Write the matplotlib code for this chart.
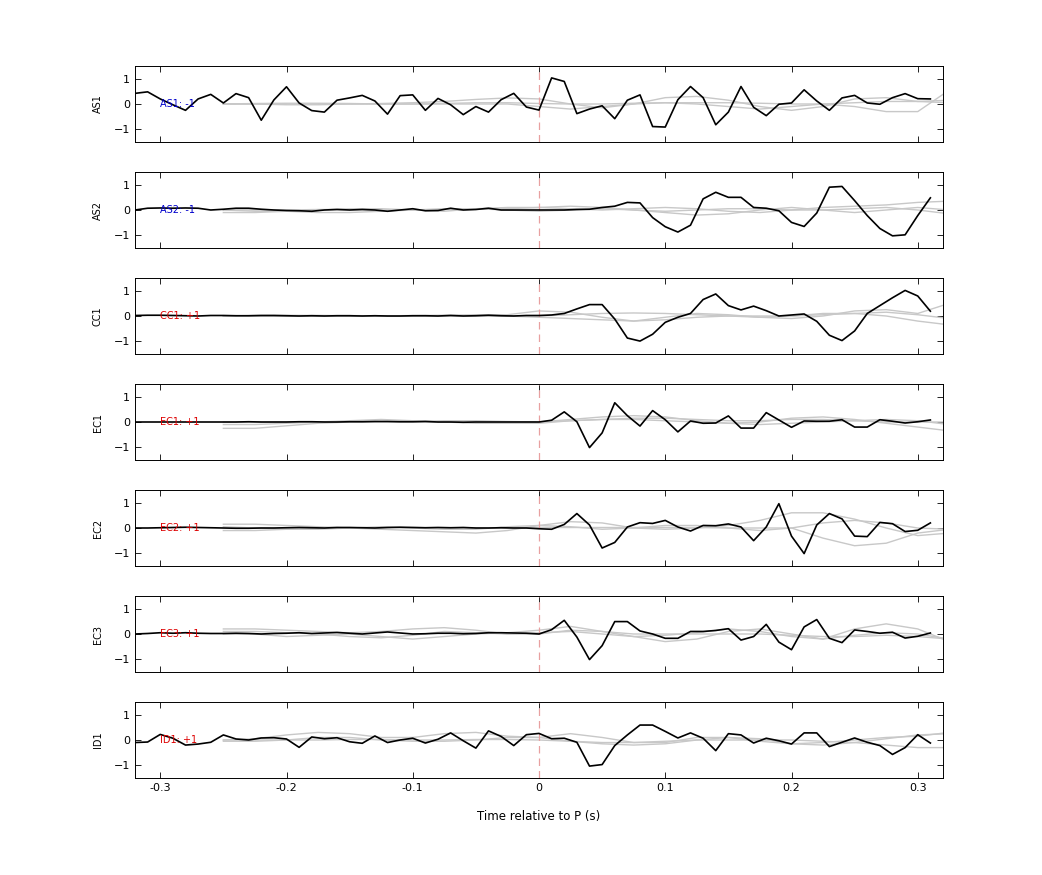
import numpy as np
import matplotlib
matplotlib.use("Agg")
import matplotlib.pyplot as plt

t = np.round(np.arange(-0.32, 0.315, 0.01), 2)
tg = np.round(np.arange(-0.25, 0.33, 0.025), 3)

stations = ["AS1", "AS2", "CC1", "EC1", "EC2", "EC3", "ID1"]
polarity = ["-1", "-1", "+1", "+1", "+1", "+1", "+1"]

AS1 = [0.42,0.48,0.2,-0.03,-0.25,0.2,0.38,0.04,0.41,0.25,-0.64,0.16,0.68,0.04,-0.26,-0.32,
       0.15,0.24,0.34,0.12,-0.4,0.33,0.36,-0.25,0.22,-0.03,-0.42,-0.1,-0.32,0.17,0.42,-0.12,
       -0.24,1.03,0.89,-0.38,-0.2,-0.07,-0.58,0.15,0.36,-0.89,-0.91,0.17,0.69,0.25,-0.82,-0.32,
       0.69,-0.13,-0.46,-0.01,0.04,0.56,0.12,-0.25,0.24,0.34,0.04,-0.01,0.25,0.41,0.21,0.2]
AS2 = [0.0,0.07,0.08,0.07,0.08,0.07,0.0,0.03,0.07,0.07,0.03,0.0,-0.02,-0.03,-0.05,0.0,
       0.02,0.0,0.02,0.0,-0.05,0.0,0.05,-0.03,-0.02,0.07,0.0,0.02,0.07,0.0,0.0,0.0,
       0.0,0.0,0.0,0.02,0.03,0.1,0.15,0.3,0.28,-0.3,-0.66,-0.87,-0.6,0.44,0.7,0.5,
       0.5,0.1,0.07,-0.03,-0.49,-0.65,-0.12,0.9,0.93,0.37,-0.22,-0.73,-1.02,-0.98,-0.22,0.48]
CC1 = [0.02,0.03,0.03,0.02,0.01,0.0,0.02,0.02,0.01,0.01,0.02,0.02,0.01,0.0,0.01,0.0,
       0.01,0.01,0.0,0.01,0.0,0.0,0.01,0.01,0.0,0.02,0.0,0.01,0.03,0.01,0.0,0.02,
       0.02,0.04,0.1,0.28,0.45,0.45,-0.12,-0.87,-0.99,-0.72,-0.25,-0.05,0.1,0.65,0.87,0.41,
       0.24,0.39,0.21,0.0,0.04,0.08,-0.21,-0.76,-0.97,-0.59,0.1,0.41,0.72,1.01,0.79,0.19]
EC1 = [0.0,0.0,0.0,0.0,0.0,0.0,0.0,0.0,0.0,0.01,0.0,0.0,0.0,0.01,0.01,0.0,
       0.0,0.01,0.01,0.02,0.02,0.01,0.01,0.02,0.0,0.0,-0.01,0.0,0.0,0.0,0.0,0.0,
       0.0,0.07,0.4,0.01,-1.01,-0.43,0.76,0.25,-0.16,0.45,0.09,-0.39,0.04,-0.05,-0.04,0.24,
       -0.24,-0.24,0.37,0.08,-0.21,0.04,0.03,0.03,0.09,-0.2,-0.2,0.09,0.03,-0.04,0.01,0.08]
EC2 = [0.0,0.0,0.01,0.02,0.03,0.02,0.01,0.0,-0.01,-0.01,0.0,0.0,0.01,0.02,0.01,0.0,
       0.02,0.02,0.01,0.0,0.02,0.03,0.02,0.01,0.02,0.01,0.02,0.0,0.0,0.01,0.0,0.0,
       -0.03,-0.05,0.14,0.57,0.12,-0.79,-0.57,0.04,0.21,0.18,0.3,0.04,-0.12,0.1,0.09,0.16,
       0.04,-0.5,0.04,0.96,-0.32,-1.01,0.12,0.57,0.36,-0.32,-0.34,0.22,0.17,-0.14,-0.09,0.2]
EC3 = [0.0,0.02,0.05,0.03,0.05,0.03,0.02,0.02,0.03,0.02,0.0,0.02,0.03,0.05,0.02,0.04,
       0.06,0.03,0.0,0.04,0.08,0.04,0.0,0.01,0.03,0.03,0.01,0.02,0.05,0.05,0.04,0.03,
       0.0,0.17,0.54,-0.12,-1.01,-0.46,0.49,0.49,0.12,0.0,-0.17,-0.17,0.1,0.1,0.14,0.21,
       -0.24,-0.1,0.38,-0.32,-0.62,0.28,0.57,-0.17,-0.34,0.16,0.1,0.03,0.07,-0.16,-0.09,0.04]
ID1 = [-0.1,-0.08,0.22,0.07,-0.2,-0.16,-0.09,0.2,0.04,0.0,0.08,0.09,0.04,-0.29,0.12,0.05,
       0.09,-0.07,-0.13,0.16,-0.1,0.0,0.07,-0.12,0.03,0.28,-0.03,-0.32,0.36,0.14,-0.22,0.21,
       0.26,0.05,0.07,-0.09,-1.03,-0.97,-0.22,0.2,0.59,0.59,0.34,0.08,0.28,0.07,-0.42,0.25,
       0.2,-0.12,0.07,-0.03,-0.16,0.28,0.28,-0.26,-0.09,0.08,-0.09,-0.22,-0.57,-0.3,0.21,-0.12]
black = [AS1, AS2, CC1, EC1, EC2, EC3, ID1]

# grey comparison traces, sampled every 0.025 s from -0.25 s
G_AS1 = [[0,0,0,0,0,0.02,0.05,0.1,0.18,0.24,0.2,0,-0.15,0,0.25,0.3,0.15,-0.1,-0.25,-0.1,0.2,0.25,0.1,0.05],
         [0,0,-0.03,-0.03,0,0,0,0,0,0,-0.1,-0.2,-0.1,0,0.05,0,-0.1,-0.2,-0.1,0,-0.1,-0.3,-0.3,0.55],
         [0,0.02,0.03,0.03,0.02,0,0,0.02,0.05,0.05,0.02,0,0,0.03,0.05,0.05,0.05,0.03,0,0,0.05,0.1,0.1,0.15]]
G_AS2 = [[-0.1,-0.1,-0.05,0,0.05,0.05,0,-0.05,0.05,0.1,0.1,0.05,0,0.05,0.1,0.05,-0.05,-0.1,0,0.1,0.15,0.2,0.3,0.35],
         [0,-0.05,-0.05,-0.1,-0.1,-0.05,0,0.05,0.05,0,-0.05,0,0.05,0,-0.1,-0.2,-0.15,0,0.1,0,-0.1,0,0.1,0],
         [0,0,0,0.02,0.02,0,0,0.02,0.05,0.05,0.1,0.15,0.1,0,-0.05,0,0.05,0.05,0,0,0.05,0.1,0,-0.15]]
G_CC1 = [[0,0,0,0.02,0.02,0,0,0.02,0.05,0.05,0.2,0.15,-0.05,-0.2,-0.05,0.1,0.05,-0.05,-0.1,0,0.2,0.25,0.1,0.5],
         [0,0,0,0,0,0,0,0,0,0,-0.05,-0.1,-0.15,-0.2,-0.15,-0.05,0,0,0,0.1,0.1,0,-0.2,-0.35],
         [0,0.02,0.03,0.02,0,0,0.02,0.03,0.02,0,0,0.05,0.1,0.12,0.1,0.05,0,-0.05,0,0.05,0.1,0.15,0.05,-0.1]]
G_EC1 = [[-0.25,-0.25,-0.15,-0.05,0,0,0,0,0,0,0,0.1,0.2,0.25,0.2,0.05,-0.05,0,0.15,0.2,0.1,-0.05,-0.2,-0.35],
         [-0.1,-0.1,-0.05,0,0.05,0.1,0.05,0,-0.05,-0.05,-0.05,0.05,0.1,0.1,0.05,0,-0.05,-0.1,-0.05,0,0.05,0.1,0.05,-0.1],
         [0,0,0,0,0.02,0.02,0.02,0.05,0.05,0.02,0,0.05,0.1,0.15,0.15,0.1,0.05,0.05,0.1,0.1,0.05,0,0,0]]
G_EC2 = [[0.15,0.15,0.1,0.05,0,-0.05,-0.1,-0.15,-0.2,-0.1,0.1,0.25,0.2,0,-0.05,0,0.1,0.3,0.6,0.6,0.35,0,-0.3,-0.2],
         [0.05,0,-0.05,-0.05,0,0.05,0,-0.05,-0.05,0.05,0.1,0.05,-0.05,0,0.1,0.1,0,-0.1,0,0.2,0.3,0.2,0,-0.05],
         [-0.1,-0.1,-0.05,0,0,0.02,0.02,0,0,0,0.02,0.02,0.02,0.02,0.02,0.02,0,0,0,-0.4,-0.7,-0.6,-0.2,-0.05]]
G_EC3 = [[0.2,0.2,0.15,0.1,0.05,0.1,0.2,0.25,0.15,0,0,0.15,0.1,-0.1,-0.3,-0.2,0.1,0.2,0,-0.2,0.2,0.4,0.2,-0.3],
         [0.1,0.1,0.05,0,-0.1,-0.15,-0.05,0.1,0.05,0,0.05,0.1,0,-0.1,-0.05,0.05,0.2,0.1,-0.1,-0.2,-0.05,0.05,0,-0.2],
         [0,0,-0.1,-0.05,0,-0.1,-0.2,-0.1,0,0.05,0.15,0.3,0.1,0,0,0,0,0,-0.05,-0.1,-0.1,-0.05,-0.1,-0.2]]
G_ID1 = [[0,0.05,0.2,0.3,0.25,0.1,0.1,0.25,0.3,0.15,0.1,0.25,0.1,-0.1,-0.1,0.1,0.1,-0.05,-0.15,-0.1,0,0.1,0.15,0.3],
         [-0.05,-0.05,0,0.1,0.1,0,-0.05,-0.05,0,0.1,0.1,-0.05,-0.15,-0.2,-0.15,0,0.1,0.05,-0.15,-0.2,-0.1,0.05,0.2,0.25],
         [0,0,0,0,0.02,0.02,0,0,0.02,0.02,0,-0.05,-0.1,-0.1,-0.05,0,0,0,0,-0.05,-0.1,-0.2,-0.3,-0.3]]
grey = [G_AS1, G_AS2, G_CC1, G_EC1, G_EC2, G_EC3, G_ID1]

fig = plt.figure(figsize=(10.42, 8.75), dpi=100)
W, H = 1042, 875
left, right = 135, 943
for i, st in enumerate(stations):
    top = 66 + 106 * i
    ax = fig.add_axes([left / W, 1 - (top + 76) / H, (right - left) / W, 76 / H])
    for g in grey[i]:
        ax.plot(tg, g, color="#c8c8c8", lw=1)
    ax.axvline(0, color="#e8a0a0", lw=0.9, ls=(0, (6, 4)))
    ax.plot(t, black[i], color="black", lw=1.2)
    ax.set_xlim(-0.32, 0.32)
    ax.set_ylim(-1.5, 1.5)
    ax.set_yticks([-1, 0, 1])
    ax.set_xticks([-0.3, -0.2, -0.1, 0, 0.1, 0.2, 0.3])
    ax.tick_params(direction="in", top=True, right=True, labelsize=8, length=4, width=0.6)
    for s in ax.spines.values():
        s.set_linewidth(0.7)
    ax.set_ylabel(st, fontsize=7, labelpad=8)
    col = "#0000cc" if polarity[i] == "-1" else "#dd0000"
    ax.text(-0.3, 0, f"{st}: {polarity[i]}", color=col, fontsize=7, va="center", ha="left")
    if i < len(stations) - 1:
        ax.set_xticklabels([])
    else:
        ax.set_xticklabels(["-0.3", "-0.2", "-0.1", "0", "0.1", "0.2", "0.3"])
        ax.set_xlabel("Time relative to P (s)", fontsize=8.5, labelpad=12)

fig.savefig("out.png", dpi=100)
